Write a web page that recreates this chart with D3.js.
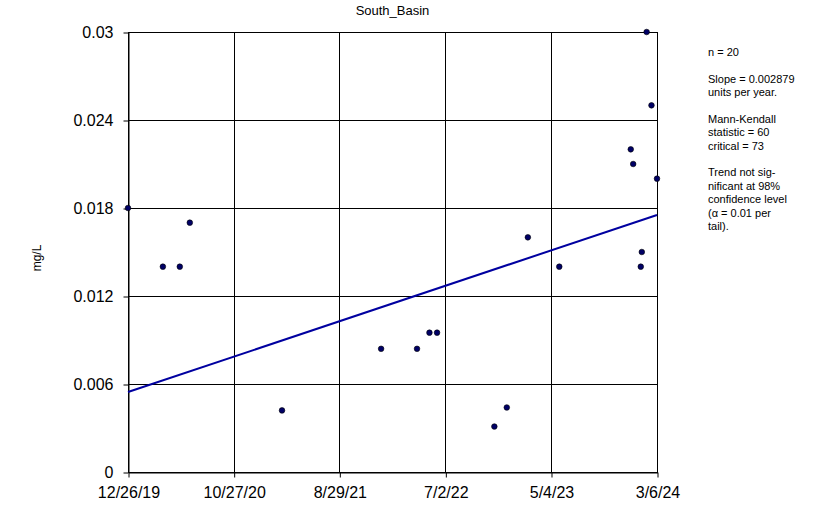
<!DOCTYPE html>
<html>
<head>
<meta charset="utf-8">
<script src="https://cdn.jsdelivr.net/npm/d3@7"></script>
<style>
  html, body { margin: 0; padding: 0; background: #fff; }
  svg { display: block; }
  text { font-family: "Liberation Sans", Arial, sans-serif; fill: #000; }
</style>
</head>
<body>
<svg id="chart" width="825" height="509"></svg>
<script>
// ---- data ----
const sampleDates = ["2019-12-26","2020-04-05","2020-05-24","2020-06-22","2021-03-16",
  "2021-12-28","2022-04-11","2022-05-17","2022-06-08","2022-11-21","2022-12-27",
  "2023-02-26","2023-05-28","2023-12-21","2023-12-28","2024-01-19","2024-01-22",
  "2024-02-05","2024-02-19","2024-03-06"];
const sampleValues = [0.018,0.014,0.014,0.017,0.0042,
  0.0084,0.0084,0.0095,0.0095,0.0031,0.0044,
  0.016,0.014,0.022,0.021,0.014,0.015,
  0.030,0.025,0.020];
const xTickDates = ["2019-12-26","2020-10-27","2021-08-29","2022-07-02","2023-05-04","2024-03-06"];
const xTickLabels = ["12/26/19","10/27/20","8/29/21","7/2/22","5/4/23","3/6/24"];
const yTickValues = [0, 0.006, 0.012, 0.018, 0.024, 0.03];
const yTickLabels = ["0","0.006","0.012","0.018","0.024","0.03"];
const trendStartValue = 0.00545;   // value of trend line at first axis date
const trendSlopePerYear = 0.002879;
const titleText = "South_Basin";
const yLabel = "mg/L";
const statsLines = [
  ["n = 20"],
  ["Slope = 0.002879", "units per year."],
  ["Mann-Kendall", "statistic = 60", "critical = 73"],
  ["Trend not sig-", "nificant at 98%", "confidence level", "(\u03b1 = 0.01 per", "tail)."]
];

// ---- layout ----
(function () {
const svg = d3.select("#chart");
const pL = 128, pR = 657, pT = 32, pB = 472;
const parse = d3.utcParse("%Y-%m-%d");
const x = d3.scaleUtc()
  .domain([parse(xTickDates[0]), parse(xTickDates[xTickDates.length - 1])])
  .range([pL, pR]);
const y = d3.scaleLinear().domain([0, 0.03]).range([pB, pT]);

// gridlines
const g = svg.append("g");
g.selectAll(".vgrid").data(xTickDates).enter().append("line")
  .attr("x1", d => Math.round(x(parse(d))) + 0.5).attr("x2", d => Math.round(x(parse(d))) + 0.5)
  .attr("y1", pT).attr("y2", pB)
  .attr("stroke", "#000").attr("stroke-width", 1);
g.selectAll(".hgrid").data(yTickValues).enter().append("line")
  .attr("x1", pL).attr("x2", pR + 1)
  .attr("y1", d => Math.round(y(d)) + 0.5).attr("y2", d => Math.round(y(d)) + 0.5)
  .attr("stroke", "#000").attr("stroke-width", 1);

// axes
const xAxis = d3.axisBottom(x)
  .tickValues(xTickDates.map(parse))
  .tickFormat((d, i) => xTickLabels[i])
  .tickSize(5).tickSizeOuter(0).tickPadding(9);
const xg = svg.append("g").attr("transform", `translate(0.5,${pB + 0.5})`).call(xAxis);
xg.select(".domain").attr("stroke", "#000");
xg.selectAll("text").attr("font-size", 16).attr("font-family", "Liberation Sans, Arial, sans-serif").attr("fill", "#000");

const yAxis = d3.axisLeft(y)
  .tickValues(yTickValues)
  .tickFormat((d, i) => yTickLabels[i])
  .tickSize(5).tickSizeOuter(0).tickPadding(10);
const yg = svg.append("g").attr("transform", `translate(${pL + 0.5},0.5)`).call(yAxis);
yg.select(".domain").attr("stroke", "#000");
yg.selectAll("text").attr("font-size", 16).attr("font-family", "Liberation Sans, Arial, sans-serif").attr("fill", "#000");

// trend line
const d0 = parse(xTickDates[0]), d1 = parse(xTickDates[xTickDates.length - 1]);
const yrs = (d1 - d0) / (365.25 * 86400000);
const trend = [[d0, trendStartValue], [d1, trendStartValue + trendSlopePerYear * yrs]];
svg.append("path")
  .attr("d", d3.line().x(d => x(d[0])).y(d => y(d[1]))(trend))
  .attr("fill", "none").attr("stroke", "#0000a0").attr("stroke-width", 2);

// points
const pts = sampleDates.map((d, i) => ({ date: parse(d), v: sampleValues[i] }));
svg.selectAll(".pt").data(pts).enter().append("circle")
  .attr("cx", d => x(d.date)).attr("cy", d => y(d.v)).attr("r", 2.8)
  .attr("fill", "#000066").attr("stroke", "#000").attr("stroke-width", 0.6);

// title
svg.append("text").attr("x", (pL + pR) / 2).attr("y", 15)
  .attr("text-anchor", "middle").attr("font-size", 13).text(titleText);

// y label
svg.append("text").attr("transform", "translate(41,258) rotate(-90)")
  .attr("text-anchor", "middle").attr("font-size", 12).text(yLabel);

// stats annotation
const ann = svg.append("g").attr("font-size", 11);
let yy = 56;
statsLines.forEach(block => {
  block.forEach(line => {
    ann.append("text").attr("x", 708).attr("y", yy).text(line);
    yy += 13.5;
  });
  yy += 13;
});
})();
</script>
</body>
</html>
